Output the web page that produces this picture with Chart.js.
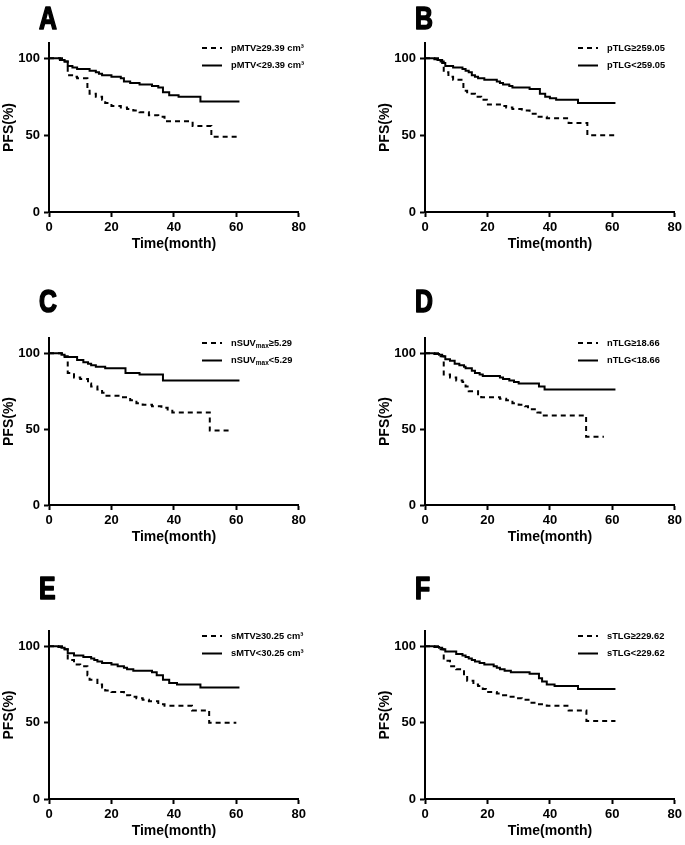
<!DOCTYPE html>
<html>
<head>
<meta charset="utf-8">
<script src="https://cdn.jsdelivr.net/npm/chart.js@4.4.1/dist/chart.umd.min.js"></script>
<style>
html, body { margin: 0; padding: 0; background: #fff; overflow: hidden; }
body { width: 685px; height: 845px; position: relative; }
canvas { position: absolute; }
</style>
</head>
<body>
<canvas id="cA" width="309" height="260" style="left:0;top:0"></canvas>
<canvas id="cB" width="309" height="260" style="left:376px;top:0"></canvas>
<canvas id="cC" width="309" height="270" style="left:0;top:283px"></canvas>
<canvas id="cD" width="309" height="270" style="left:376px;top:283px"></canvas>
<canvas id="cE" width="309" height="277" style="left:0;top:570px"></canvas>
<canvas id="cF" width="309" height="277" style="left:376px;top:570px"></canvas>
<script>
// tick labels
const xTicks = [0, 20, 40, 60, 80];
const yTicks = [0, 50, 100];

// A: pMTV
const aHiT = [0, 5, 6, 8, 9, 12.3, 13, 15, 17, 18, 20, 23, 25, 27, 29, 32, 35, 37, 46, 52, 61];
const aHiS = [100, 98, 89, 88, 87, 80, 77, 75, 73, 71, 69, 68, 67, 66, 65, 63, 62, 59, 56, 49, 49];
const aLoT = [0, 3.5, 5, 6, 7.5, 9, 13, 15, 16, 17, 20, 23, 24, 26, 29, 33, 35, 36.5, 38.5, 41.5, 48.5, 61];
const aLoS = [100, 99, 98, 95, 94, 93, 92, 91, 90, 89, 88, 87, 85, 84, 83, 82, 81, 78, 76, 75, 72, 72];

// B: pTLG
const bHiT = [0, 5, 6, 7.5, 9, 12.3, 13.5, 16, 18, 19.8, 24, 26, 28, 31, 33.5, 36, 39, 46, 52, 61];
const bHiS = [100, 98, 91, 88, 86, 79, 77, 75, 73, 70, 69, 68, 67, 66, 64, 62, 61, 58, 50, 50];
const bLoT = [0, 3, 4, 5.5, 6.5, 9, 12, 13, 14, 15, 16, 17, 19, 23, 24, 25, 27, 28, 33.5, 36.8, 38.5, 40, 42, 49, 61];
const bLoS = [100, 99.5, 99, 97, 95, 94, 93, 92, 91, 89, 88, 87, 86, 85, 84, 83, 82, 81, 80, 77, 75, 74, 73, 71, 71];

// C: nSUVmax
const cHiT = [0, 5, 6, 8, 10, 12.5, 13.5, 15.5, 17, 18, 23, 26, 28, 30, 33, 36, 38, 39.5, 51.5, 58];
const cHiS = [100, 98, 87, 84, 83, 80, 78, 76, 74, 72, 71, 69, 67, 66, 65, 64, 62, 61, 49, 49];
const cLoT = [0, 4, 5, 9, 11, 12.5, 13.5, 15, 18, 24.5, 29, 36.5, 61];
const cLoS = [100, 99, 97.5, 95.5, 94, 93, 92, 91, 90, 87, 86, 82, 82];

// D: nTLG
const dHiT = [0, 5, 6, 8, 10, 12, 13, 14, 17, 18, 24, 26, 28, 30, 32, 33, 36, 37, 51.6, 57.3];
const dHiS = [100, 98, 86, 84, 82, 81, 78, 75, 73, 71, 70, 69, 67, 66, 65, 63, 61, 59, 45, 45];
const dLoT = [0, 3, 4.5, 5.5, 6.5, 8, 9.5, 11, 12.5, 13, 15, 16, 17.5, 18.5, 24, 25, 27, 28.5, 30, 36.5, 38.3, 61];
const dLoS = [100, 99.5, 99, 98, 96, 95, 93, 92, 91, 90, 88.5, 87, 86, 85, 84, 83, 82, 81, 80, 78, 76, 76];

// E: sMTV
const eHiT = [0, 5, 6, 8, 10, 12.3, 13, 15.5, 17, 18, 20, 24, 26, 28, 30, 32, 35, 37, 45.8, 51.3, 60];
const eHiS = [100, 98, 91, 88, 87, 81, 78, 75, 73, 71, 70, 68, 67, 66, 65, 64, 62, 61, 58, 50, 50];
const eLoT = [0, 3, 4, 5, 6, 8, 11, 13.5, 14.5, 15.5, 17, 20, 22, 24, 25, 27, 33, 34.5, 36.5, 38.5, 41, 48.5, 61];
const eLoS = [100, 99.5, 99, 98, 95.5, 94, 93, 92, 91, 90, 89, 88, 87, 86, 85, 84, 83, 81, 78, 76, 75, 73, 73];

// F: sTLG
const fHiT = [0, 5, 6, 8, 10, 12.5, 13.5, 15.5, 17, 18.5, 19.5, 23, 25, 27, 29, 31, 33.5, 36, 39, 46, 51.7, 61];
const fHiS = [100, 98, 90.5, 87, 85, 80.5, 77.5, 75, 74, 72, 70, 69, 68, 67, 66, 65, 63, 62, 61, 58, 51, 51];
const fLoT = [0, 3, 4.5, 5.5, 6.5, 10, 12, 13, 14, 15, 16, 17.5, 19, 22, 23, 24, 25.5, 27.5, 33.5, 36.5, 37.5, 39, 41.5, 49, 61];
const fLoS = [100, 99.5, 99, 98, 96.5, 95, 94, 93, 92, 91, 90, 89, 88, 87, 86, 85, 84, 83, 82, 79, 77, 75, 74, 72, 72];

const FONT = '"Liberation Sans", Arial, sans-serif';

// letra do painel + legenda desenhada à mão ("_" marca subscrito)
const panelDecor = {
    id: 'panelDecor',
    afterDraw(chart, args, opts) {
        const ctx = chart.ctx, area = chart.chartArea;
        ctx.save();
        ctx.fillStyle = '#000';
        ctx.textBaseline = 'alphabetic';
        // letra estreita e pesada: escala horizontal + contorno
        ctx.save();
        ctx.translate(area.left - 10, 29);
        ctx.scale(0.8, 1);
        ctx.font = 'bold 31px ' + FONT;
        ctx.strokeStyle = '#000';
        ctx.lineWidth = 1.6;
        ctx.lineJoin = 'round';
        ctx.fillText(opts.letter, 0, 0);
        ctx.strokeText(opts.letter, 0, 0);
        ctx.restore();

        opts.labels.forEach((lab, i) => {
            const y = area.top + 5 + i * 17.5;
            ctx.strokeStyle = '#000';
            ctx.lineWidth = 2;
            ctx.setLineDash(i === 0 ? [5, 4] : []);
            ctx.beginPath();
            ctx.moveTo(area.left + 153, y);
            ctx.lineTo(area.left + 173, y);
            ctx.stroke();
            ctx.setLineDash([]);
            let x = area.left + 182;
            ctx.textBaseline = 'middle';
            lab.split('_').forEach((part, k) => {
                const sub = k % 2 === 1;
                ctx.font = 'bold ' + (sub ? 6.5 : 9.3) + 'px ' + FONT;
                ctx.fillText(part, x, sub ? y + 3 : y);
                x += ctx.measureText(part).width;
            });
        });
        ctx.restore();
    }
};

function pts(t, s) {
    return t.map((x, i) => ({ x: x, y: s[i] }));
}

function makePanel(id, letter, labels, padTop, hiT, hiS, loT, loS) {
    const tickFont = { family: FONT, size: 13, weight: 'bold' };
    const titleFont = { family: FONT, size: 14, weight: 'bold' };
    return new Chart(document.getElementById(id), {
        type: 'line',
        data: {
            datasets: [
                { label: labels[0], data: pts(hiT, hiS), borderColor: '#000', borderWidth: 2, borderDash: [5, 4],
                  stepped: true, pointRadius: 0, fill: false },
                { label: labels[1], data: pts(loT, loS), borderColor: '#000', borderWidth: 2,
                  stepped: true, pointRadius: 0, fill: false }
            ]
        },
        options: {
            responsive: false,
            animation: false,
            layout: { padding: { top: padTop, right: 10, left: 0, bottom: 0 } },
            plugins: {
                legend: { display: false },
                tooltip: { enabled: false },
                panelDecor: { letter: letter, labels: labels }
            },
            scales: {
                x: {
                    type: 'linear', min: 0, max: 80,
                    afterBuildTicks: s => { s.ticks = xTicks.map(v => ({ value: v })); },
                    ticks: { color: '#000', font: tickFont, padding: 3, maxRotation: 0 },
                    grid: { drawOnChartArea: false, drawTicks: true, tickLength: 5, tickWidth: 2, color: '#000' },
                    border: { display: true, color: '#000', width: 2 },
                    title: { display: true, text: 'Time(month)', color: '#000', font: titleFont, padding: { top: 0, bottom: 7 } },
                    afterFit: s => { s.height = 48; }
                },
                y: {
                    type: 'linear', min: 0, max: 110,
                    afterBuildTicks: s => { s.ticks = yTicks.map(v => ({ value: v })); },
                    ticks: { color: '#000', font: tickFont, padding: 4 },
                    grid: { drawOnChartArea: false, drawTicks: true, tickLength: 5, tickWidth: 2, color: '#000' },
                    border: { display: true, color: '#000', width: 2 },
                    title: { display: true, text: 'PFS(%)', color: '#000', font: titleFont, padding: { top: 1, bottom: 0 } },
                    afterFit: s => { s.width = 49; }
                }
            }
        },
        plugins: [panelDecor]
    });
}

makePanel('cA', 'A', ['pMTV≥29.39 cm³', 'pMTV<29.39 cm³'], 43, aHiT, aHiS, aLoT, aLoS);
makePanel('cB', 'B', ['pTLG≥259.05', 'pTLG<259.05'], 43, bHiT, bHiS, bLoT, bLoS);
makePanel('cC', 'C', ['nSUV_max_≥5.29', 'nSUV_max_<5.29'], 55, cHiT, cHiS, cLoT, cLoS);
makePanel('cD', 'D', ['nTLG≥18.66', 'nTLG<18.66'], 55, dHiT, dHiS, dLoT, dLoS);
makePanel('cE', 'E', ['sMTV≥30.25 cm³', 'sMTV<30.25 cm³'], 61, eHiT, eHiS, eLoT, eLoS);
makePanel('cF', 'F', ['sTLG≥229.62', 'sTLG<229.62'], 61, fHiT, fHiS, fLoT, fLoS);
</script>
</body>
</html>
